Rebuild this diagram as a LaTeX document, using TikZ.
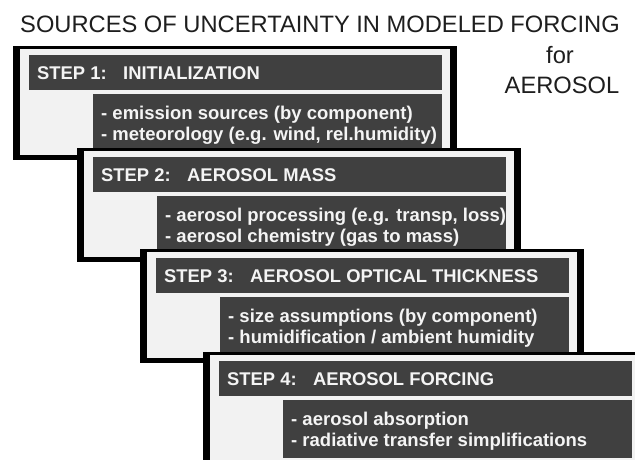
\documentclass[tikz,border=0pt]{standalone}
\usepackage{fontspec}
\setmainfont{Liberation Sans}
\definecolor{panelbg}{HTML}{F2F2F2}
\definecolor{bardark}{HTML}{404040}
\definecolor{bartext}{HTML}{F4F4F4}
\definecolor{titlecol}{HTML}{1E1E1E}
\tikzset{
  panelfill/.style={fill=panelbg},
  darkbox/.style={fill=bardark, draw=none, inner sep=0pt, anchor=north west},
  stepnum/.style={text=bartext, font=\bfseries\fontsize{18.4}{20}\selectfont, anchor=base west, inner sep=0pt},
  detail/.style={text=bartext, font=\bfseries\fontsize{18.5}{21}\selectfont, anchor=base west, inner sep=0pt},
  headline/.style={text=titlecol, font=\fontsize{23.7}{26}\selectfont, inner sep=0pt, anchor=base}
}
\newcommand\mkpanel[6]{%
  \begin{scope}[shift={(#2,#3)}]
    \fill[black] (0,0) rectangle (444,114);
    \fill[panelfill] (7,3) rectangle (437,109);
    \node[darkbox, minimum width=413pt, minimum height=35pt] (bar#1) at (16,9) {};
    \node[darkbox, minimum width=349pt, minimum height=58pt] (det#1) at (80,48) {};
    \node[stepnum] (num#1) at (24,33) {STEP #1:};
    \node[stepnum] (name#1) at (110,33) {#4};
    \node[detail] (la#1) at (88,73) {#5};
    \node[detail] (lb#1) at (88,94) {#6};
  \end{scope}}
\begin{document}
\begin{tikzpicture}[x=1pt,y=-1pt]
  \useasboundingbox (0,0) rectangle (635,459);
  \clip (0,0) rectangle (635,459);
  \fill[white] (0,0) rectangle (635,459);
  \node[headline, anchor=base west] (title) at (20,32) {SOURCES OF UNCERTAINTY IN MODELED FORCING};
  \node[headline] (for) at (560,63) {for};
  \node[headline] (aero) at (562,93) {AEROSOL};
  \mkpanel{1}{13}{46}{INITIALIZATION}{- emission sources (by component)}{- meteorology (e.g. wind, rel.humidity)}
  \mkpanel{2}{77}{148}{AEROSOL MASS}{- aerosol processing (e.g. transp, loss)}{- aerosol chemistry (gas to mass)}
  \mkpanel{3}{140}{249}{AEROSOL OPTICAL THICKNESS}{- size assumptions (by component)}{- humidification / ambient humidity}
  \mkpanel{4}{203}{352}{AEROSOL FORCING}{- aerosol absorption}{- radiative transfer simplifications}
\end{tikzpicture}
\end{document}
